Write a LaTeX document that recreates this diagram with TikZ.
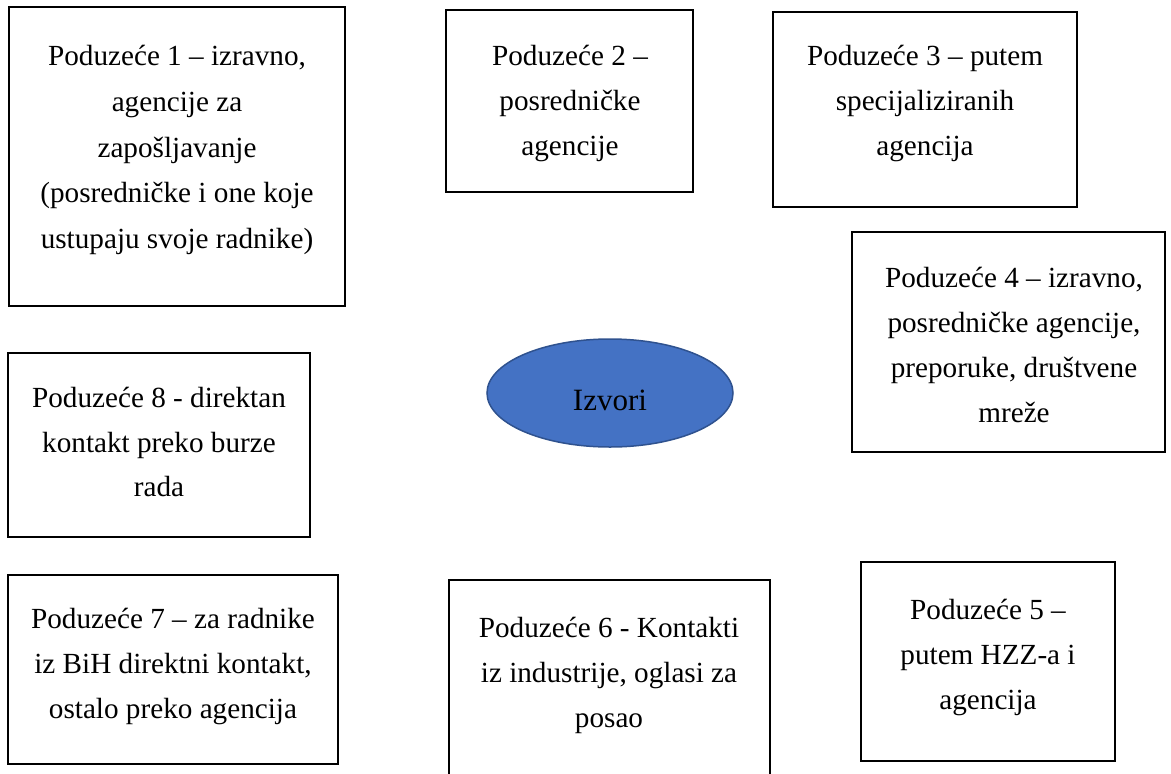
\documentclass[tikz,border=0pt]{standalone}
\usepackage{fontspec}
\setmainfont{Liberation Serif}
\newfontfamily\srcfont{Liberation Serif}
\usetikzlibrary{shapes.geometric}
\definecolor{izfill}{HTML}{4472C4}
\definecolor{izdraw}{HTML}{2F528F}
\begin{document}
\begin{tikzpicture}[x=1pt,y=-1pt,
  srcbox/.style={draw=black, line width=1.4pt, inner sep=0pt, fill=white},
  srctext/.style={font=\srcfont\fontsize{29.2}{#1}\selectfont, align=center, anchor=north,
    inner sep=0pt, execute at begin node={\rule{0pt}{24pt}}},
  hub/.style={ellipse, draw=izdraw, fill=izfill, line width=1.5pt, inner sep=0pt},
]
\useasboundingbox (0,0) rectangle (1171,774);
\begin{scope}
\clip (0,0) rectangle (1171,774);
% boxes
\node[srcbox, minimum width=336pt, minimum height=299pt] (b1) at (177,156.5) {};
\node[srcbox, minimum width=247pt, minimum height=182pt] (b2) at (569.5,101) {};
\node[srcbox, minimum width=304pt, minimum height=195pt] (b3) at (925,109.5) {};
\node[srcbox, minimum width=313pt, minimum height=220pt] (b4) at (1008.5,342) {};
\node[srcbox, minimum width=254pt, minimum height=199pt] (b5) at (988,661.5) {};
\node[srcbox, minimum width=321pt, minimum height=210pt] (b6) at (609.5,685) {};
\node[srcbox, minimum width=330pt, minimum height=189pt] (b7) at (173,669.5) {};
\node[srcbox, minimum width=302pt, minimum height=184pt] (b8) at (159,445) {};
\end{scope}
% texts
\node[srctext=45.75] (t1) at (177,45) {Poduzeće 1 – izravno,\\agencije za\\zapošljavanje\\(posredničke i one koje\\ustupaju svoje radnike)};
\node[srctext=45] (t2) at (570,45) {Poduzeće 2 –\\posredničke\\agencije};
\node[srctext=45] (t3) at (925,45) {Poduzeće 3 – putem\\specijaliziranih\\agencija};
\node[srctext=45] (t4) at (1014,267) {Poduzeće 4 – izravno,\\posredničke agencije,\\preporuke, društvene\\mreže};
\node[srctext=45] (t5) at (988,599) {Poduzeće 5 –\\putem HZZ-a i\\agencija};
\node[srctext=45] (t6) at (609,617) {Poduzeće 6 - Kontakti\\iz industrije, oglasi za\\posao};
\node[srctext=45] (t7) at (173,608) {Poduzeće 7 – za radnike\\iz BiH direktni kontakt,\\ostalo preko agencija};
\node[srctext=44.5] (t8) at (159,387) {Poduzeće 8 - direktan\\kontakt preko burze\\rada};
% hub
\node[hub, minimum width=246pt, minimum height=108pt] (src) at (610,393) {};
\node[font=\srcfont\fontsize{31}{36}\selectfont, anchor=base, inner sep=0pt] (srclbl) at (610,410) {Izvori};
\end{tikzpicture}
\end{document}
